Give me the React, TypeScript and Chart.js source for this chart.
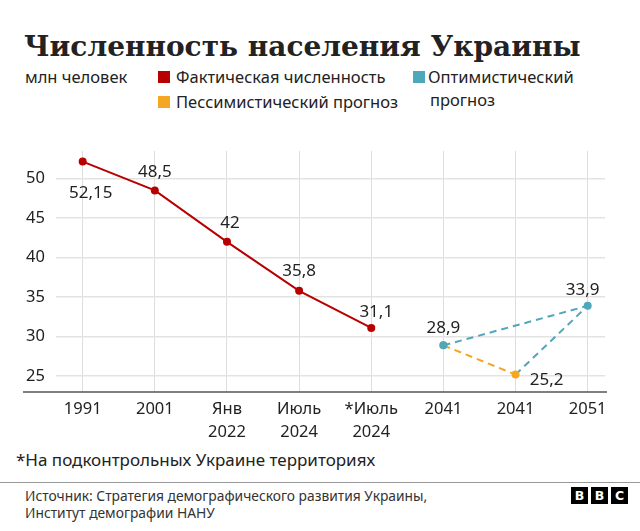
import React, { useEffect, useRef } from "react";
import { Chart, registerables } from "chart.js";

Chart.register(...registerables);

const categories: (string | string[])[] = [
  "1991",
  "2001",
  ["Янв", "2022"],
  ["Июль", "2024"],
  ["*Июль", "2024"],
  "2041",
  "2041",
  "2051",
];
const actual: (number | null)[] = [52.15, 48.5, 42, 35.8, 31.1, null, null, null];
const optimistic: (number | null)[] = [null, null, null, null, null, 28.9, null, 33.9];
const pessimistic: (number | null)[] = [null, null, null, null, null, 28.9, 25.2, null];
const yTicks = [25, 30, 35, 40, 45, 50];

const RED = "#b80000";
const BLUE = "#4ea7ba";
const ORANGE = "#f5a623";
const FONT = "'Noto Sans', sans-serif";

const toPoints = (arr: (number | null)[]) =>
  arr.map((v, i) => (v == null ? null : { x: i, y: v })).filter((p) => p !== null) as { x: number; y: number }[];

const fmt = (v: number) => String(v).replace(".", ",");

// label placement per series point: [dx, dy] relative to the point
const labelPlacement: Record<string, [number, number][]> = {
  actual: [[8, 32], [0, -18], [3, -19], [0, -20], [5, -16]],
  optimistic: [[0, -17], [-5, -16]],
  pessimistic: [[0, 0], [31, 6]],
};

const labelPlugin = {
  id: "pointLabels",
  afterDatasetsDraw(chart: any) {
    const ctx = chart.ctx;
    ctx.save();
    ctx.font = `17px ${FONT}`;
    ctx.fillStyle = "#222";
    ctx.textAlign = "center";
    ctx.textBaseline = "middle";
    const draw = (dsIndex: number, key: string, skip: number[] = []) => {
      const meta = chart.getDatasetMeta(dsIndex);
      const data = chart.data.datasets[dsIndex].data as any[];
      meta.data.forEach((el: any, i: number) => {
        if (skip.includes(i)) return;
        const [dx, dy] = labelPlacement[key][i];
        ctx.fillText(fmt(data[i].y), el.x + dx, el.y + dy);
      });
    };
    draw(3, "actual");
    draw(0, "optimistic");
    draw(1, "pessimistic", [0]);
    ctx.restore();
  },
};

const baselinePlugin = {
  id: "baseline",
  afterDraw(chart: any) {
    const { ctx, chartArea } = chart;
    ctx.save();
    ctx.strokeStyle = "#555";
    ctx.lineWidth = 1.5;
    ctx.beginPath();
    ctx.moveTo(23, chartArea.bottom);
    ctx.lineTo(chartArea.right + 2, chartArea.bottom);
    ctx.stroke();
    ctx.restore();
  },
};

function LineChart() {
  const ref = useRef<HTMLCanvasElement>(null);
  useEffect(() => {
    if (!ref.current) return;
    const optPts = toPoints(optimistic);
    const pesPts = toPoints(pessimistic);
    const connector = [pesPts[pesPts.length - 1], optPts[optPts.length - 1]];
    const chart = new Chart(ref.current, {
      type: "line",
      data: {
        datasets: [
          {
            label: "Оптимистический прогноз",
            data: optPts,
            borderColor: BLUE,
            backgroundColor: BLUE,
            borderWidth: 2,
            borderDash: [7, 5],
            pointRadius: 4,
            pointBorderWidth: 0,
          },
          {
            label: "Пессимистический прогноз",
            data: pesPts,
            borderColor: ORANGE,
            backgroundColor: ORANGE,
            borderWidth: 2,
            borderDash: [7, 5],
            pointRadius: 4,
            pointBorderWidth: 0,
          },
          {
            label: "connector",
            data: connector,
            borderColor: BLUE,
            borderWidth: 2,
            borderDash: [7, 5],
            pointRadius: 0,
          },
          {
            label: "Фактическая численность",
            data: toPoints(actual),
            borderColor: RED,
            backgroundColor: RED,
            borderWidth: 2,
            pointRadius: 4,
            pointBorderWidth: 0,
          },
        ],
      },
      options: {
        animation: false,
        responsive: false,
        events: [],
        layout: { padding: { top: 17, right: 35, left: 0, bottom: 0 } },
        plugins: { legend: { display: false }, tooltip: { enabled: false } },
        scales: {
          x: {
            type: "linear",
            min: -0.37,
            max: 7.24,
            afterBuildTicks: (s: any) => {
              s.ticks = categories.map((_, i) => ({ value: i }));
            },
            afterFit: (s: any) => {
              s.height = 53;
            },
            ticks: {
              callback: (v: any) => categories[v as number],
              font: { family: FONT, size: 16.5, lineHeight: 1.4 },
              color: "#222",
              padding: 6,
              maxRotation: 0,
              autoSkip: false,
            },
            grid: { color: "#dddddd", lineWidth: 1, drawTicks: false },
            border: { display: false },
          },
          y: {
            min: 23,
            max: 53.5,
            afterBuildTicks: (s: any) => {
              s.ticks = yTicks.map((v) => ({ value: v }));
            },
            afterFit: (s: any) => {
              s.width = 56;
            },
            ticks: {
              font: { family: FONT, size: 16.5 },
              color: "#222",
              padding: 11,
            },
            grid: { color: "#e3e3e3", lineWidth: 1.5, drawTicks: false },
            border: { display: false },
          },
        },
      },
      plugins: [labelPlugin, baselinePlugin],
    });
    return () => chart.destroy();
  }, []);
  return <canvas ref={ref} width={640} height={315} style={{ position: "absolute", left: 0, top: 130, width: 640, height: 315 }} />;
}

const abs = (left: number, top: number, extra: React.CSSProperties = {}): React.CSSProperties => ({
  position: "absolute",
  left,
  top,
  whiteSpace: "nowrap",
  ...extra,
});

export default function App() {
  const sans: React.CSSProperties = { fontFamily: FONT, fontSize: 16.5, color: "#222", lineHeight: "20px" };
  return (
    <div style={{ position: "absolute", left: 0, top: 0, width: 640, height: 531, background: "#fff", overflow: "hidden" }}>
      <div style={abs(24, 28, { fontFamily: "'DejaVu Serif', serif", fontWeight: 700, fontSize: 28, color: "#222", lineHeight: "38px" })}>
        Численность населения Украины
      </div>
      <div style={abs(25, 67, sans)}>млн человек</div>
      <div style={abs(158, 71, { width: 12, height: 12, background: RED })} />
      <div style={abs(176, 67, sans)}>Фактическая численность</div>
      <div style={abs(158, 96, { width: 12, height: 12, background: ORANGE })} />
      <div style={abs(176, 92, sans)}>Пессимистический прогноз</div>
      <div style={abs(413, 71, { width: 12, height: 12, background: BLUE })} />
      <div style={abs(428, 67, sans)}>Оптимистический</div>
      <div style={abs(430, 90, sans)}>прогноз</div>
      <LineChart />
      <div style={abs(16, 449, { ...sans, fontSize: 17, lineHeight: "22px" })}>*На подконтрольных Украине территориях</div>
      <div style={{ position: "absolute", left: 0, top: 482, width: 640, height: 1, background: "#999" }} />
      <div style={abs(25, 487, { fontFamily: FONT, fontSize: 13.8, color: "#333", lineHeight: "17px" })}>
        Источник: Стратегия демографического развития Украины,
        <br />
        Институт демографии НАНУ
      </div>
      <div style={abs(571, 487, { display: "flex", gap: 3 })}>
        {["B", "B", "C"].map((c, i) => (
          <div
            key={i}
            style={{
              width: 17,
              height: 17,
              background: "#000",
              color: "#fff",
              fontFamily: "'DejaVu Sans', sans-serif",
              fontWeight: 700,
              fontSize: 12.5,
              lineHeight: "17px",
              textAlign: "center",
            }}
          >
            {c}
          </div>
        ))}
      </div>
    </div>
  );
}
